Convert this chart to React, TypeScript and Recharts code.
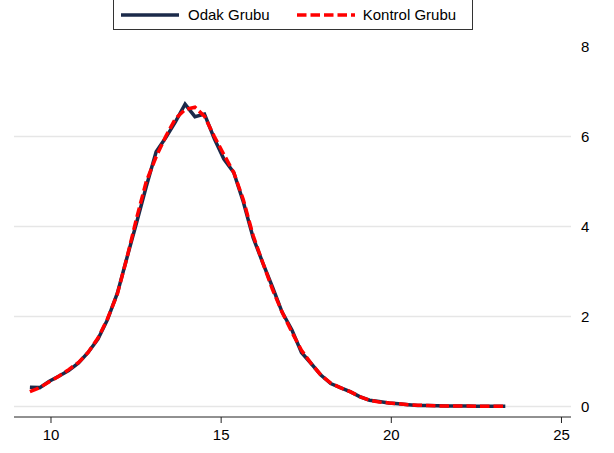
import React from 'react';
import { LineChart, Line, XAxis, YAxis, ReferenceLine } from 'recharts';

// kernel density estimates, 50 points each
const xValues = [
    9.38, 9.67, 9.95, 10.24, 10.52, 10.81, 11.09, 11.38, 11.66, 11.95,
    12.23, 12.52, 12.80, 13.09, 13.37, 13.66, 13.94, 14.23, 14.51, 14.80,
    15.08, 15.37, 15.65, 15.94, 16.22, 16.51, 16.79, 17.08, 17.36, 17.65,
    17.93, 18.22, 18.50, 18.79, 19.07, 19.36, 19.64, 19.93, 20.21, 20.50,
    20.78, 21.07, 21.35, 21.64, 21.92, 22.21, 22.49, 22.78, 23.06, 23.35,
];

const odakGrubu = [
    0.43, 0.42, 0.56, 0.68, 0.80, 0.97, 1.20, 1.50, 1.93, 2.52,
    3.30, 4.10, 4.89, 5.66, 5.97, 6.33, 6.72, 6.44, 6.50, 5.95,
    5.50, 5.20, 4.55, 3.75, 3.20, 2.65, 2.10, 1.70, 1.20, 0.95,
    0.70, 0.51, 0.42, 0.33, 0.22, 0.14, 0.11, 0.08, 0.06, 0.04,
    0.02, 0.02, 0.015, 0.01, 0.01, 0.01, 0.005, 0.005, 0.005, 0.005,
];

const kontrolGrubu = [
    0.33, 0.42, 0.55, 0.68, 0.82, 0.98, 1.20, 1.52, 1.95, 2.50,
    3.30, 4.20, 5.00, 5.55, 6.00, 6.40, 6.60, 6.65, 6.45, 6.00,
    5.60, 5.20, 4.60, 3.80, 3.20, 2.60, 2.10, 1.65, 1.25, 0.95,
    0.70, 0.52, 0.42, 0.33, 0.22, 0.14, 0.10, 0.08, 0.06, 0.04,
    0.03, 0.02, 0.015, 0.01, 0.01, 0.01, 0.005, 0.005, 0.005, 0.005,
];

const xTicks = [10, 15, 20, 25];
const yTicks = [0, 2, 4, 6, 8];
const gridValues = [0, 2, 4, 6];

const NAVY = '#1b2a4a';
const RED = '#ff0000';
const FONT = '"Liberation Sans", Arial, Helvetica, sans-serif';

const data = xValues.map((x, i) => ({ x, odak: odakGrubu[i], kontrol: kontrolGrubu[i] }));

const LegendBox: React.FC = () => (
    <div style={{
        position: 'absolute', left: 113, top: -1, width: 358, height: 29,
        border: '1px solid #333', background: '#fff',
        display: 'flex', alignItems: 'center', fontFamily: FONT, fontSize: 15, color: '#000',
    }}>
        <svg width={58} height={6} style={{ marginLeft: 7, marginRight: 9 }}>
            <line x1={0} y1={3} x2={58} y2={3} stroke={NAVY} strokeWidth={3.5} />
        </svg>
        <span>Odak Grubu</span>
        <svg width={58} height={6} style={{ marginLeft: 27, marginRight: 8 }}>
            <line x1={0} y1={3} x2={58} y2={3} stroke={RED} strokeWidth={3.5} strokeDasharray="9.5 4" />
        </svg>
        <span>Kontrol Grubu</span>
    </div>
);

export default function App() {
    return (
        <div style={{ position: 'absolute', left: 0, top: 0, width: 614, height: 453, background: '#fff' }}>
            <LineChart
                width={614}
                height={453}
                data={data}
                margin={{ top: 46, right: 0, left: 14, bottom: 6 }}
            >
                {gridValues.map(v => (
                    <ReferenceLine key={v} y={v} stroke="#e6e6e6" strokeWidth={1.5} />
                ))}
                <XAxis
                    dataKey="x"
                    type="number"
                    domain={[8.913, 25.28]}
                    ticks={xTicks}
                    height={30}
                    tickSize={6}
                    tickMargin={6}
                    stroke="#222"
                    tick={{ fontSize: 15, fill: '#000', fontFamily: FONT }}
                />
                <YAxis
                    orientation="right"
                    type="number"
                    domain={[-0.233, 8.011]}
                    ticks={yTicks}
                    width={43}
                    axisLine={false}
                    tickLine={false}
                    tickSize={6}
                    tickMargin={4}
                    tick={{ fontSize: 15, fill: '#000', fontFamily: FONT }}
                />
                <Line
                    type="linear"
                    dataKey="odak"
                    stroke={NAVY}
                    strokeWidth={3.5}
                    dot={false}
                    isAnimationActive={false}
                />
                <Line
                    type="linear"
                    dataKey="kontrol"
                    stroke={RED}
                    strokeWidth={3.5}
                    strokeDasharray="9.5 4"
                    dot={false}
                    isAnimationActive={false}
                />
            </LineChart>
            <LegendBox />
        </div>
    );
}
